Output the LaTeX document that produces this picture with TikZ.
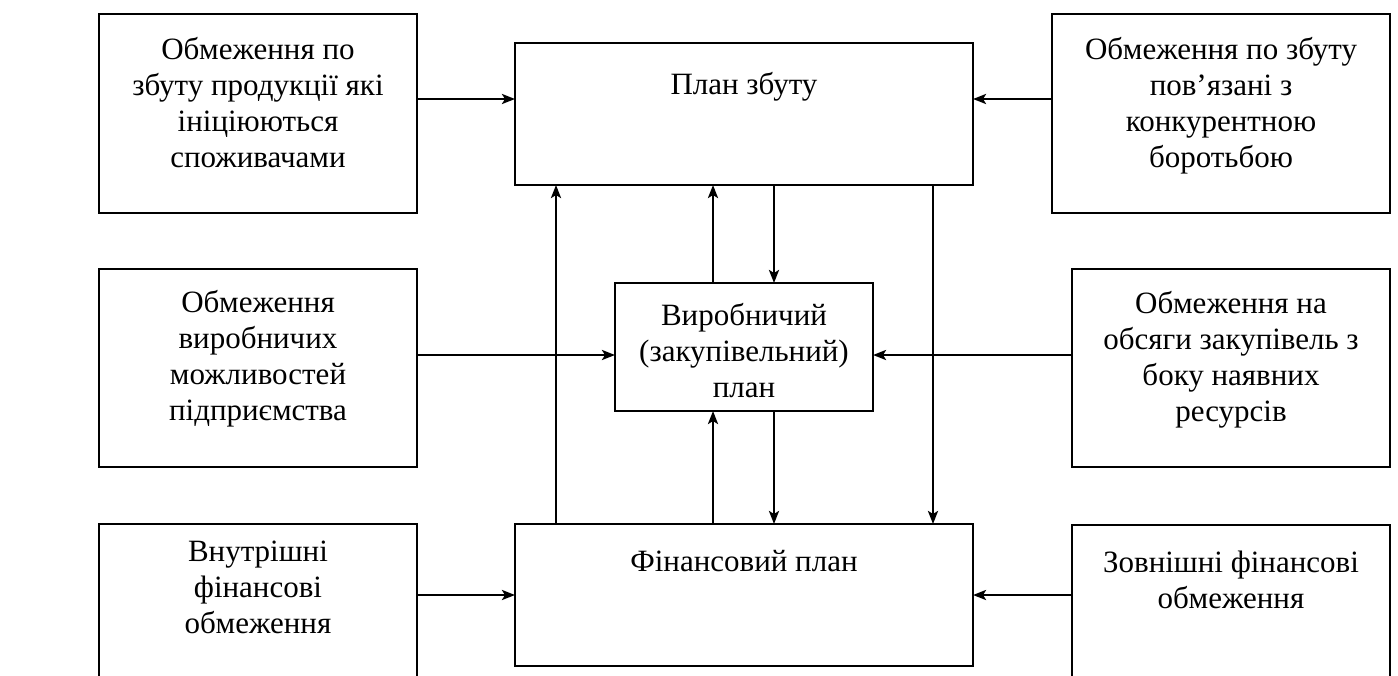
\documentclass[tikz,border=0pt]{standalone}
\usepackage{fontspec}
\setmainfont{Liberation Serif}
\usetikzlibrary{arrows.meta}
\begin{document}
\begin{tikzpicture}[x=1pt,y=-1pt,
  box/.style={draw, line width=2pt, inner sep=0pt, outer sep=0pt, anchor=north west},
  lbl/.style={anchor=north, align=center, font=\fontsize{31}{36}\selectfont, inner sep=0pt},
  arr/.style={line width=2.8pt, -{Stealth[length=13pt,width=10pt,inset=3pt]}}]
\useasboundingbox (0,0) rectangle (1398,675);
\clip (0,0) rectangle (1398,675);
% boxes
\node[box, minimum width=318pt, minimum height=199pt] (tl) at (99,14) {};
\node[box, minimum width=458pt, minimum height=142pt] (plan) at (515,43) {};
\node[box, minimum width=338pt, minimum height=199pt] (tr) at (1052,14) {};
\node[box, minimum width=318pt, minimum height=198pt] (ml) at (99,269) {};
\node[box, minimum width=258pt, minimum height=128pt] (prod) at (615,283) {};
\node[box, minimum width=318pt, minimum height=198pt] (mr) at (1072,269) {};
\node[box, minimum width=318pt, minimum height=200pt] (bl) at (99,524) {};
\node[box, minimum width=458pt, minimum height=142pt] (fin) at (515,524) {};
\node[box, minimum width=318pt, minimum height=200pt] (br) at (1072,525) {};
% labels
\node[lbl] (ttl) at ([yshift=-23pt]tl.north) {Обмеження по\\збуту продукції які\\ініціюються\\споживачами};
\node[lbl] (tplan) at ([yshift=-29pt]plan.north) {План збуту};
\node[lbl] (ttr) at ([yshift=-23pt]tr.north) {Обмеження по збуту\\пов’язані з\\конкурентною\\боротьбою};
\node[lbl] (tml) at ([yshift=-21pt]ml.north) {Обмеження\\виробничих\\можливостей\\підприємства};
\node[lbl] (tprod) at ([yshift=-20pt]prod.north) {Виробничий\\(закупівельний)\\план};
\node[lbl] (tmr) at ([yshift=-22pt]mr.north) {Обмеження на\\обсяги закупівель з\\боку наявних\\ресурсів};
\node[lbl] (tbl) at ([yshift=-17pt]bl.north) {Внутрішні\\фінансові\\обмеження};
\node[lbl] (tfin) at ([yshift=-26pt]fin.north) {Фінансовий план};
\node[lbl] (tbr) at ([yshift=-26pt]br.north) {Зовнішні фінансові\\обмеження};
% helper coordinates
\coordinate (ytop) at (0,99);
\coordinate (ymid) at (0,355);
\coordinate (ybot) at (0,595);
\coordinate (v1) at (556,0);
\coordinate (v2) at (713,0);
\coordinate (v3) at (774,0);
\coordinate (v4) at (933,0);
% horizontal connectors
\draw[arr] (tl.east |- ytop) -- (plan.west |- ytop);
\draw[arr] (tr.west |- ytop) -- (plan.east |- ytop);
\draw[arr] (ml.east |- ymid) -- (prod.west |- ymid);
\draw[arr] (mr.west |- ymid) -- (prod.east |- ymid);
\draw[arr] (bl.east |- ybot) -- (fin.west |- ybot);
\draw[arr] (br.west |- ybot) -- (fin.east |- ybot);
% vertical connectors
\draw[arr] (fin.north -| v1) -- (plan.south -| v1);
\draw[arr] (prod.north -| v2) -- (plan.south -| v2);
\draw[arr] (fin.north -| v2) -- (prod.south -| v2);
\draw[arr] (plan.south -| v3) -- (prod.north -| v3);
\draw[arr] (prod.south -| v3) -- (fin.north -| v3);
\draw[arr] (plan.south -| v4) -- (fin.north -| v4);
\end{tikzpicture}
\end{document}
